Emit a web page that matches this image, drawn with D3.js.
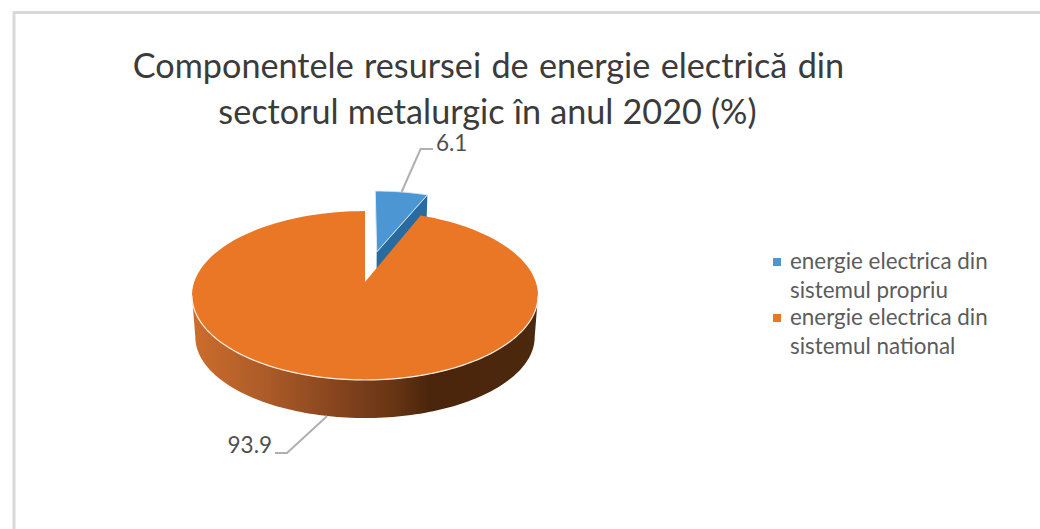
<!DOCTYPE html>
<html><head><meta charset="utf-8">
<script src="https://cdn.jsdelivr.net/npm/d3@7"></script>
<style>html,body{margin:0;padding:0;background:#fff}svg{display:block}</style>
</head><body><svg id="c" width="1040" height="529"></svg>
<script>
const categories = ["energie electrica din sistemul propriu", "energie electrica din sistemul national"];
const values = [6.1, 93.9];
const legendLines = [["energie electrica din","sistemul propriu"],["energie electrica din","sistemul national"]];
const titleLines = ["Componentele resursei de energie electrică din","sectorul metalurgic în anul 2020 (%)"];
const topColors = ["#4b96d3","#e97725"];
const sideColor = "#2a6b9f";
const font = "Lato, Carlito, sans-serif";

const svg = d3.select("#c");
const defs = svg.append("defs");
svg.append("rect").attr("x",14).attr("y",12.5).attr("width",1100).attr("height",600)
  .attr("fill","#fff").attr("stroke","#d9d9d9").attr("stroke-width",3);

const arcs = d3.pie().sort(null)(values);
const k = 0.16;
const project = (u,v,o) => {
  const w = 1 - k*v;
  return [o.cx + o.B*u/w, o.cy + o.A*v/w];
};
const topPlane = {cx:365,cy:282,A:82.3,B:170.8};
const botPlane = {cx:365,cy:324,A:79,B:167.5};
const blueTop = {cx:365.5,cy:279,A:78.6,B:168};
const blueBot = {cx:365.5,cy:301,A:76,B:166};
const explode = [0.37,0];
const pt = (a,r,o,i) => {
  const mid=(arcs[i].startAngle+arcs[i].endAngle)/2;
  return project(r*Math.sin(a)+explode[i]*Math.sin(mid), -r*Math.cos(a)-explode[i]*Math.cos(mid), o);
};
const line = d3.line();
const arcPts = (a0,a1,o,i) => d3.range(0,121).map(n=>pt(a0+(a1-a0)*n/120,1,o,i));
const facePath = (i,o) => {
  const a=arcs[i];
  return line([pt(0,0,o,i),...arcPts(a.startAngle,a.endAngle,o,i)])+"Z";
};

// blue slice
svg.append("path").attr("fill",sideColor)
  .attr("d",line([pt(0,0,blueTop,0),pt(arcs[0].endAngle,1,blueTop,0),pt(arcs[0].endAngle,1,blueBot,0),pt(0,0,blueBot,0)])+"Z");
svg.append("path").attr("d",facePath(0,blueTop)).attr("fill",topColors[0]).attr("stroke","#dcebf7").attr("stroke-width",1);

// orange side
const grad = defs.append("linearGradient").attr("id","g").attr("gradientUnits","userSpaceOnUse")
  .attr("x1",192).attr("x2",538).attr("y1",0).attr("y2",0);
[[0,"#cc6d2c"],[0.22,"#ab5a28"],[0.45,"#80411c"],[0.58,"#683514"],[0.69,"#4a250b"],[1,"#4c280d"]]
  .forEach(s=>grad.append("stop").attr("offset",s[0]).attr("stop-color",s[1]));
const sa=Math.PI-Math.acos(k), sb=Math.PI+Math.acos(k);
svg.append("path").attr("fill","url(#g)")
  .attr("d",line([...arcPts(sa,sb,topPlane,1),...arcPts(sb,sa,botPlane,1)])+"Z");
svg.append("path").attr("d",facePath(1,topPlane)).attr("fill",topColors[1]);
svg.append("path").attr("fill","none").attr("stroke","#fbeee2").attr("stroke-width",1.2)
  .attr("d",line(arcPts(sa,sb,topPlane,1)));

// leaders and data labels
const mid=a=>(a.startAngle+a.endAngle)/2;
const leaderColor="#b0b0b0";
const s0=pt(mid(arcs[0]),1,blueTop,0), s1=pt(mid(arcs[1]),1,botPlane,1);
svg.append("path").attr("fill","none").attr("stroke",leaderColor).attr("stroke-width",2)
  .attr("d",line([s0,[s0[0]+19,149],[433,149]]));
svg.append("path").attr("fill","none").attr("stroke",leaderColor).attr("stroke-width",2)
  .attr("d",line([s1,[287,453],[275,453]]));
const lab=svg.append("g").attr("font-family",font).attr("font-size",22.5).attr("fill","#505050");
lab.append("text").attr("x",436).attr("y",151).text(values[0].toFixed(1));
lab.append("text").attr("x",272).attr("y",453).attr("text-anchor","end").text(values[1].toFixed(1));

// title
svg.append("g").attr("font-family",font).attr("font-size",34.2).attr("fill","#3b3b3b").attr("text-anchor","middle")
  .selectAll("text").data(titleLines).join("text")
  .attr("word-spacing",(d,i)=>i?0.4:1.6)
  .attr("x",(d,i)=>i?487.5:488.5).attr("y",(d,i)=>78+i*46).text(d=>d);

// legend
const ly=[[269,298],[325,354]], my=[258,314];
const lg=svg.append("g").attr("font-family",font).attr("font-size",22.4).attr("fill","#5c5c5c");
legendLines.forEach((ls,i)=>{
  lg.append("rect").attr("x",773).attr("y",my[i]).attr("width",8).attr("height",8).attr("fill",topColors[i]);
  ls.forEach((t,j)=>lg.append("text").attr("x",790).attr("y",ly[i][j]).text(t));
});
</script></body></html>
